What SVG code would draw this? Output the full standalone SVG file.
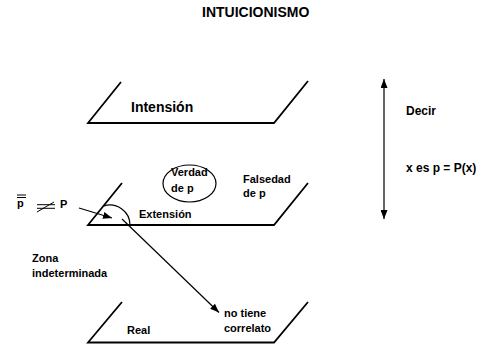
<svg xmlns="http://www.w3.org/2000/svg" width="488" height="344" viewBox="0 0 488 344">
<style>
text{font-family:"Liberation Sans",Arial,sans-serif;font-weight:bold;fill:#000}
.t11{font-size:11px}
.t12{font-size:12px}
.plane{fill:none;stroke:#000;stroke-width:1.8}
.ln{fill:none;stroke:#000;stroke-width:1.2}
</style>
<defs>
<marker id="ah" viewBox="0 0 10 10" refX="10" refY="5" markerWidth="9" markerHeight="7" markerUnits="userSpaceOnUse" orient="auto-start-reverse" preserveAspectRatio="none">
<path d="M0,0 L10,5 L0,10 Z" fill="#000"/>
</marker>
</defs>
<rect width="488" height="344" fill="#fff"/>
<g id="title"><text x="202" y="17" style="font-size:14px">INTUICIONISMO</text></g>
<g id="intension">
<path class="plane" d="M121,82 L88,123 L274,123 L308,81"/>
<text x="131" y="112" style="font-size:14px">Intensión</text>
</g>
<g id="extension">
<path class="plane" d="M122,183 L88,225 L274,225 L308,183"/>
<path class="ln" d="M103.2,206.2 A20,20 0 0 1 130,225"/>
<text class="t11" x="139" y="218">Extensión</text>
</g>
<g id="verdad">
<ellipse cx="189.5" cy="183.5" rx="26.5" ry="18.5" fill="none" stroke="#000" stroke-width="1.2"/>
<text class="t11" x="171" y="176">Verdad</text>
<text class="t11" x="171" y="192">de p</text>
</g>
<g id="falsedad">
<text class="t11" x="243" y="183">Falsedad</text>
<text class="t11" x="243" y="197">de p</text>
</g>
<g id="real">
<path class="plane" d="M122,302 L88,342.5 L274,342.5 L308,302"/>
<text class="t11" x="127" y="334">Real</text>
</g>
<g id="notiene">
<text class="t11" x="224" y="317">no tiene</text>
<text class="t11" x="224" y="332">correlato</text>
</g>
<g id="zona">
<text class="t11" x="32" y="262">Zona</text>
<text class="t11" x="32" y="277">indeterminada</text>
</g>
<g id="pnotP">
<text class="t11" x="17" y="207">p</text>
<line x1="17" y1="195" x2="26" y2="195" stroke="#000" stroke-width="1"/>
<line x1="17" y1="197.5" x2="26" y2="197.5" stroke="#000" stroke-width="1"/>
<line x1="37" y1="204.7" x2="55" y2="204.7" stroke="#000" stroke-width="1"/>
<line x1="37" y1="208.3" x2="55" y2="208.3" stroke="#000" stroke-width="1"/>
<line x1="37" y1="212" x2="54" y2="202" stroke="#000" stroke-width="1"/>
<text class="t11" x="60" y="208">P</text>
</g>
<g id="decir">
<text class="t12" x="406" y="115">Decir</text>
<text class="t12" x="406" y="172">x es p = P(x)</text>
</g>
<g id="connectors">
<line class="ln" x1="79" y1="208" x2="112" y2="218" marker-end="url(#ah)"/>
<line class="ln" x1="122" y1="219" x2="219" y2="312.5" marker-end="url(#ah)"/>
<line class="ln" x1="384" y1="79" x2="384" y2="219" marker-start="url(#ah)" marker-end="url(#ah)"/>
</g>
</svg>
